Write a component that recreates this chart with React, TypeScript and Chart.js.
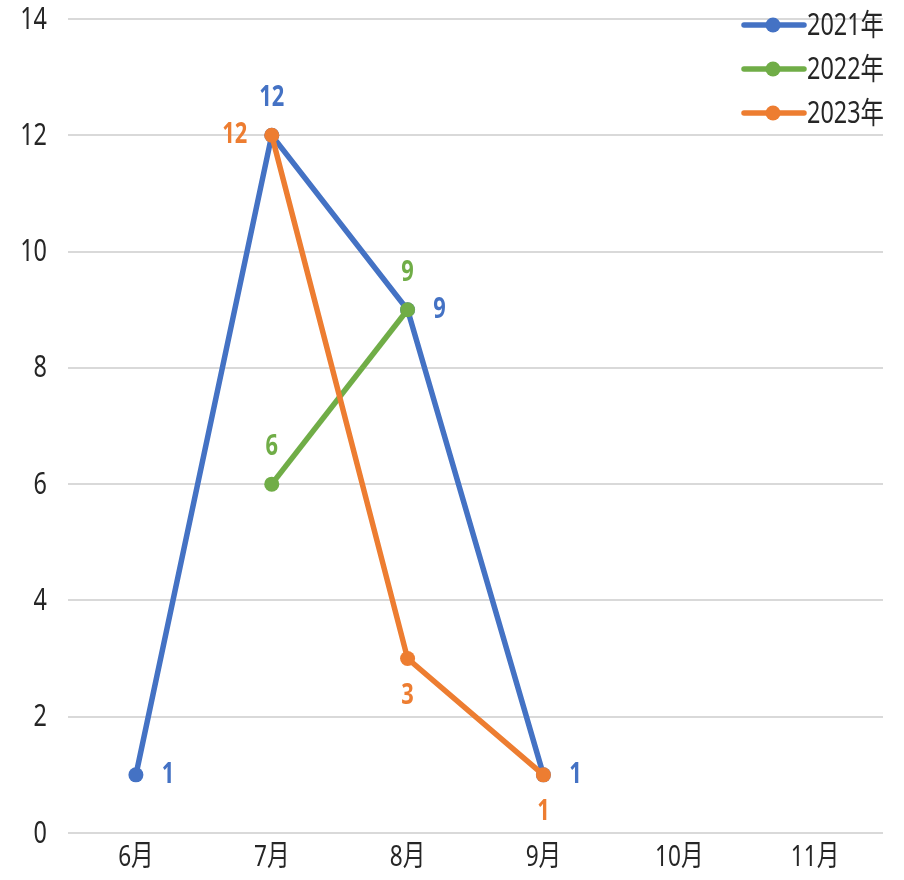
import React, { useEffect, useRef } from "react";
import { Chart, registerables } from "chart.js";

Chart.register(...registerables);

const months = ["6月", "7月", "8月", "9月", "10月", "11月"];
const series2021 = [1, 12, 9, 1, null, null];
const series2022 = [null, 6, 9, null, null, null];
const series2023 = [null, 12, 3, 1, null, null];
const seriesNames = ["2021年", "2022年", "2023年"];
const yTicks = [0, 2, 4, 6, 8, 10, 12, 14];

const BLUE = "#4472C4";
const GREEN = "#70AD47";
const ORANGE = "#ED7D31";
const TEXT = "#262626";
const FONT = "'Noto Sans', 'Noto Sans CJK SC', sans-serif";
const NARROW = 0.78;

// where each value label sits relative to its point
const labelPos2021 = ["right", "above", "right", "right", "", ""];
const labelPos2022 = ["", "above", "above", "", "", ""];
const labelPos2023 = ["", "left", "below", "below", "", ""];

// narrow text: draw with a horizontal squeeze around the anchor point
function narrowText(
  ctx: CanvasRenderingContext2D,
  text: string,
  x: number,
  y: number,
  font: string,
  color: string,
  align: CanvasTextAlign
) {
  ctx.save();
  ctx.translate(x, y);
  ctx.scale(NARROW, 1);
  ctx.font = font;
  ctx.fillStyle = color;
  ctx.textAlign = align;
  ctx.textBaseline = "middle";
  ctx.fillText(text, 0, 0);
  ctx.restore();
}

const axisLabels = {
  id: "axisLabels",
  afterDraw(chart: any) {
    const ctx = chart.ctx;
    const xs = chart.scales.x;
    const ys = chart.scales.y;
    months.forEach((m, i) => {
      narrowText(ctx, m, xs.getPixelForValue(i), 858, `29px ${FONT}`, TEXT, "center");
    });
    yTicks.forEach((v) => {
      narrowText(ctx, String(v), 47, ys.getPixelForValue(v) + 1, `30px ${FONT}`, TEXT, "right");
    });
  },
};

const valueLabels = {
  id: "valueLabels",
  afterDatasetsDraw(chart: any) {
    const ctx = chart.ctx;
    chart.data.datasets.forEach((ds: any, i: number) => {
      const meta = chart.getDatasetMeta(i);
      ds.data.forEach((v: number | null, j: number) => {
        if (v === null) return;
        const el = meta.data[j];
        const pos = ds.labelPos[j];
        let x = el.x;
        let y = el.y;
        if (pos === "right") x += 32;
        else if (pos === "left") x -= 37;
        else if (pos === "above") y -= 37;
        else if (pos === "below") y += 37;
        narrowText(ctx, String(v), x, y, `bold 28px ${FONT}`, ds.borderColor, "center");
      });
    });
  },
};

const sideLegend = {
  id: "sideLegend",
  afterDraw(chart: any) {
    const ctx = chart.ctx;
    const x0 = 744;
    const x1 = 804;
    const rows = [25, 69, 113];
    chart.data.datasets.forEach((ds: any, i: number) => {
      const y = rows[i];
      ctx.save();
      ctx.strokeStyle = ds.borderColor;
      ctx.lineWidth = 5.5;
      ctx.lineCap = "round";
      ctx.beginPath();
      ctx.moveTo(x0, y);
      ctx.lineTo(x1, y);
      ctx.stroke();
      ctx.fillStyle = ds.borderColor;
      ctx.beginPath();
      ctx.arc((x0 + x1) / 2 - 1, y, 7.5, 0, Math.PI * 2);
      ctx.fill();
      ctx.restore();
      narrowText(ctx, ds.label, 807, y + 1, `30px ${FONT}`, TEXT, "left");
    });
  },
};

export default function App() {
  const ref = useRef<HTMLCanvasElement>(null);

  useEffect(() => {
    if (!ref.current) return;
    const mk = (label: string, data: (number | null)[], color: string, order: number, labelPos: string[]) => ({
      label,
      data,
      borderColor: color,
      backgroundColor: color,
      borderWidth: 5.5,
      pointRadius: 7.5,
      pointHoverRadius: 7.5,
      pointBorderWidth: 0,
      tension: 0,
      spanGaps: false,
      order,
      labelPos,
    });
    const chart = new Chart(ref.current, {
      type: "line",
      data: {
        labels: months,
        datasets: [
          mk(seriesNames[0], series2021, BLUE, 2, labelPos2021),
          mk(seriesNames[1], series2022, GREEN, 1, labelPos2022),
          mk(seriesNames[2], series2023, ORANGE, 0, labelPos2023),
        ] as any,
      },
      options: {
        responsive: false,
        animation: false,
        layout: { padding: { top: 19, right: 21, bottom: 0, left: 0 } },
        plugins: {
          legend: { display: false },
          tooltip: { enabled: false },
        },
        scales: {
          x: {
            offset: true,
            grid: { display: false },
            border: { display: false },
            ticks: { display: false },
            afterFit: (s: any) => {
              s.height = 47;
            },
          },
          y: {
            min: 0,
            max: 14,
            afterBuildTicks: (s: any) => {
              s.ticks = yTicks.map((v) => ({ value: v }));
            },
            grid: { color: "#d9d9d9", lineWidth: 2, drawTicks: false },
            border: { display: false },
            ticks: { display: false },
            afterFit: (s: any) => {
              s.width = 68;
            },
          },
        },
      },
      plugins: [valueLabels, sideLegend, axisLabels],
    });
    return () => chart.destroy();
  }, []);

  return (
    <div style={{ position: "fixed", left: 0, top: 0, width: 904, height: 880, background: "#fff" }}>
      <canvas ref={ref} width={904} height={880} />
    </div>
  );
}
